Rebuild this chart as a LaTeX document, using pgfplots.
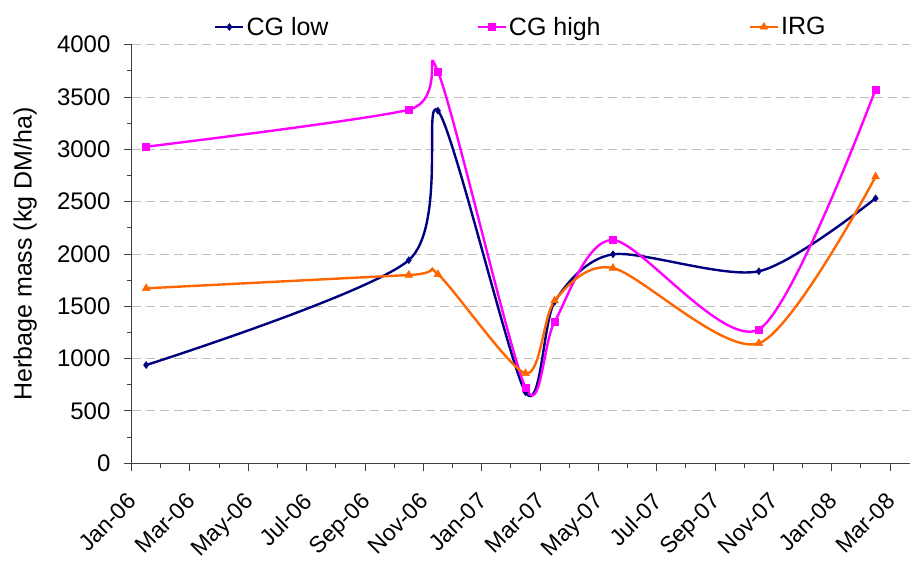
\documentclass[border=0pt]{standalone}
\usepackage{pgfplots}
\pgfplotsset{compat=1.18}
\usepackage{fontspec}
\setmainfont{Liberation Sans}
\definecolor{cglow}{HTML}{000080}
\definecolor{cghigh}{HTML}{FF00FF}
\definecolor{irg}{HTML}{FF6600}
\begin{document}
\begin{tikzpicture}
\begin{axis}[
  scale only axis,
  width=778.4bp, height=418.6bp,
  xmin=0, xmax=26.68,
  ymin=0, ymax=4000,
  axis x line*=bottom, axis y line*=left,
  axis line style={black!75, line width=1.2bp},
  xtick={0,2,...,26},
  minor xtick={1,3,...,25},
  xticklabels={Jan-06,Mar-06,May-06,Jul-06,Sep-06,Nov-06,Jan-07,Mar-07,May-07,Jul-07,Sep-07,Nov-07,Jan-08,Mar-08},
  ytick={0,500,...,4000},
  minor ytick={250,750,...,3750},
  tick align=outside,
  major tick length=8bp, minor tick length=5bp,
  tick style={black!75, line width=1bp},
  ymajorgrids,
  major grid style={dash pattern=on 9bp off 5bp, black!25, line width=1bp},
  /pgf/number format/assume math mode=true,
  /pgf/number format/1000 sep={},
  yticklabel style={inner sep=0pt, xshift=-13bp, font=\fontsize{24bp}{28bp}\selectfont},
  xticklabel style={xshift=-5bp, yshift=-20bp, rotate=45, anchor=north east, inner sep=0pt, font=\fontsize{23bp}{27bp}\selectfont},
  ylabel={Herbage mass (kg DM/ha)},
  ylabel style={at={(axis description cs:-0.1283,0.5)}, anchor=base, font=\fontsize{25bp}{30bp}\selectfont},
  legend columns=3,
  legend style={at={(axis description cs:0.1059,1.0423)}, anchor=west, draw=none, fill=none, inner sep=0pt,
    font=\fontsize{25bp}{30bp}\selectfont,
    /tikz/every even column/.append style={column sep=146bp}},
  legend image code/.code={\draw[mark repeat=2, mark phase=2, #1] plot coordinates {(0bp,0bp) (14bp,0bp) (28bp,0bp)};},
  every axis plot/.append style={line width=2.4bp, smooth, tension=0.47},
  clip=false,
]
\addplot[cglow, mark=diamond*, mark size=3.5bp, mark options={solid, line width=0.5bp}] coordinates {
(0.5,939) (9.5,1941) (10.5,3369) (13.5,680) (14.5,1544) (16.5,1997) (21.5,1835) (25.5,2532)};
\addlegendentry{CG low}
\addplot[cghigh, mark=square*, mark size=3.5bp, mark options={solid, line width=0.5bp}] coordinates {
(0.5,3025) (9.5,3379) (10.5,3742) (13.5,722) (14.5,1353) (16.5,2134) (21.5,1280) (25.5,3574)};
\addlegendentry{CG high}
\addplot[irg, mark=triangle*, mark size=4.5bp, mark options={solid, line width=0.5bp}] coordinates {
(0.5,1672) (9.5,1799) (10.5,1806) (13.5,860) (14.5,1554) (16.5,1866) (21.5,1147) (25.5,2739)};
\addlegendentry{IRG}
\coordinate (ll) at (rel axis cs:0,0);
\coordinate (ur) at (rel axis cs:1,1);
\end{axis}
\pgfresetboundingbox
\useasboundingbox ([shift={(-131.6bp,-99.7bp)}]ll) rectangle ([shift={(0bp,44.7bp)}]ur);
\end{tikzpicture}
\end{document}
